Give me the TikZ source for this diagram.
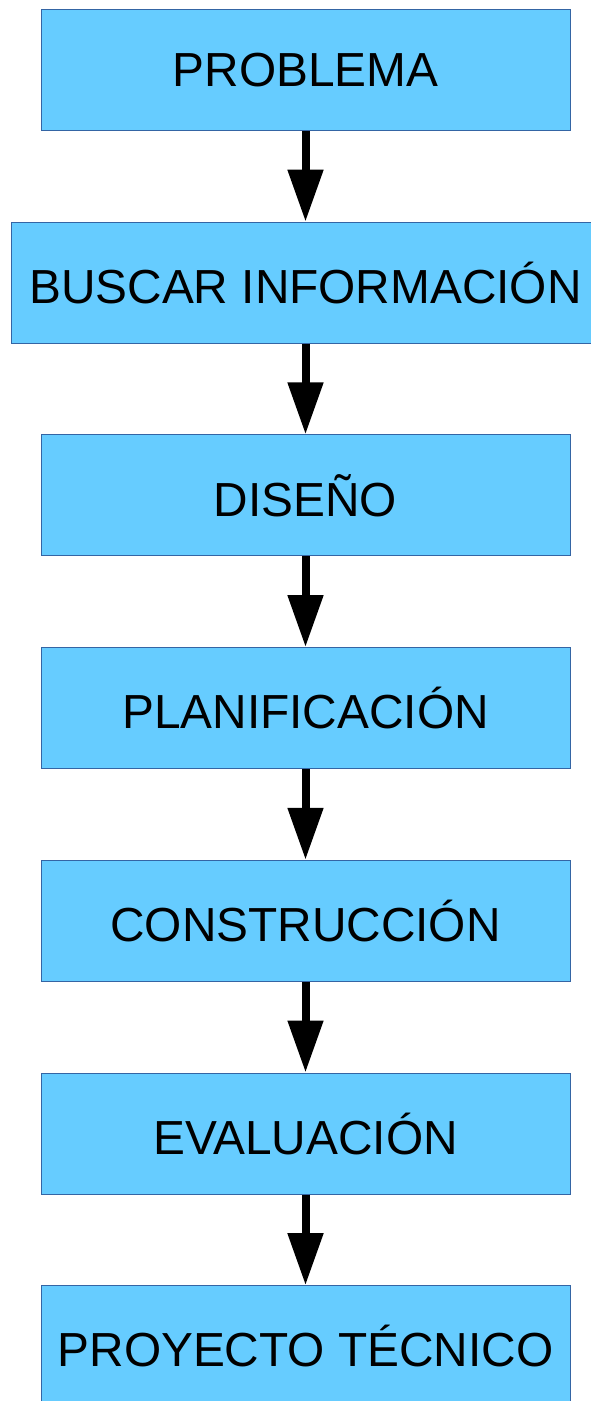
\documentclass[tikz,border=0pt]{standalone}
\usepackage{fontspec}
\setmainfont{Liberation Sans}
\usetikzlibrary{arrows.meta,positioning}

\begin{document}
\begin{tikzpicture}[
    x=1pt, y=1pt,
    paso/.style={
        rectangle,
        draw={rgb,255:red,52;green,101;blue,164},
        line width=1pt,
        fill={rgb,255:red,102;green,204;blue,255},
        minimum width=529pt,
        minimum height=121pt,
        inner sep=0pt,
        font=\fontsize{47.8}{55}\selectfont
    },
    flecha/.style={
        line width=8pt,
        -{Triangle[length=52pt,width=34pt]}
    }
]
\useasboundingbox (0,0) rectangle (591,-1401);
% --- pasos del proyecto ---
\node[paso] (problema) at (305.5,-70) {PROBLEMA};
\node[paso, minimum width=589pt, below=90.7pt of problema] (buscar) {BUSCAR INFORMACIÓN};
\node[paso, below=90.7pt of buscar] (diseno) {DISEÑO};
\node[paso, below=90.7pt of diseno] (plan) {PLANIFICACIÓN};
\node[paso, below=90.7pt of plan] (constr) {CONSTRUCCIÓN};
\node[paso, below=90.7pt of constr] (eval) {EVALUACIÓN};
\node[paso, below=90.7pt of eval] (proyecto) {PROYECTO TÉCNICO};
% --- flechas ---
\draw[flecha] (problema.south) -- (buscar.north);
\draw[flecha] (buscar.south) -- (diseno.north);
\draw[flecha] (diseno.south) -- (plan.north);
\draw[flecha] (plan.south) -- (constr.north);
\draw[flecha] (constr.south) -- (eval.north);
\draw[flecha] (eval.south) -- (proyecto.north);
\end{tikzpicture}
\end{document}
